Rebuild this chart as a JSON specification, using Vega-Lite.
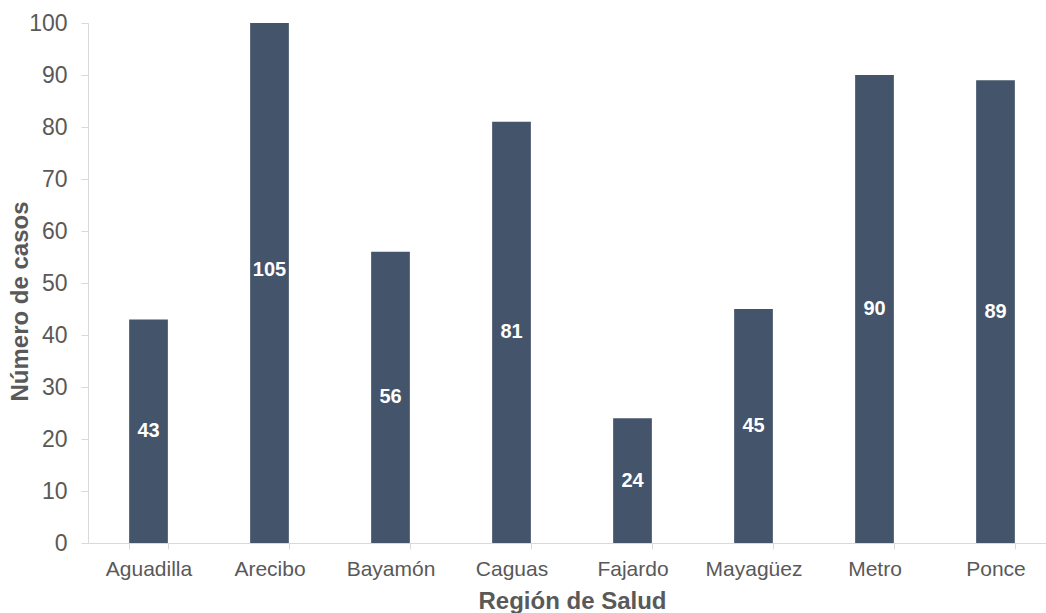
{
  "$schema": "https://vega.github.io/schema/vega-lite/v6.json",
  "width": 958,
  "height": 520,
  "autosize": {"type": "none"},
  "padding": {"left": 88, "top": 23, "right": 0, "bottom": 70},
  "background": "white",
  "config": {
    "view": {"stroke": null},
    "font": "Liberation Sans",
    "axis": {"labelFont": "Liberation Sans", "titleFont": "Liberation Sans", "labelColor": "#595959", "titleColor": "#595959"}
  },
  "data": {
    "values": [
      {"region": "Aguadilla", "casos": 43},
      {"region": "Arecibo", "casos": 105},
      {"region": "Bayamón", "casos": 56},
      {"region": "Caguas", "casos": 81},
      {"region": "Fajardo", "casos": 24},
      {"region": "Mayagüez", "casos": 45},
      {"region": "Metro", "casos": 90},
      {"region": "Ponce", "casos": 89}
    ]
  },
  "encoding": {
    "x": {
      "field": "region",
      "type": "nominal",
      "sort": null,
      "scale": {"range": [0, 968], "paddingInner": 0.68, "paddingOuter": 0.34},
      "axis": {
        "title": "Región de Salud",
        "titleFontSize": 24,
        "titleFontWeight": "bold",
        "titlePadding": 10,
        "labelFontSize": 21,
        "labelAngle": 0,
        "labelPadding": 9,
        "tickBand": "extent",
        "tickSize": 6,
        "tickColor": "#d9d9d9",
        "domainColor": "#d9d9d9",
        "grid": false
      }
    }
  },
  "layer": [
    {
      "mark": {"type": "bar", "color": "#44546A", "clip": true},
      "encoding": {
        "y": {
          "field": "casos",
          "type": "quantitative",
          "scale": {"domain": [0, 100], "nice": false},
          "axis": {
            "title": "Número de casos",
            "titleFontSize": 24,
            "titleFontWeight": "bold",
            "titlePadding": -4,
            "titleY": 278,
            "labelFontSize": 23,
            "labelPadding": 14,
            "values": [0, 10, 20, 30, 40, 50, 60, 70, 80, 90, 100],
            "tickSize": 7,
            "tickColor": "#d9d9d9",
            "domainColor": "#d9d9d9",
            "grid": false
          }
        }
      }
    },
    {
      "transform": [{"calculate": "datum.casos / 2", "as": "mid"}],
      "mark": {"type": "text", "color": "white", "fontWeight": "bold", "fontSize": 20, "baseline": "middle"},
      "encoding": {
        "y": {"field": "mid", "type": "quantitative"},
        "text": {"field": "casos", "type": "quantitative"}
      }
    }
  ]
}
